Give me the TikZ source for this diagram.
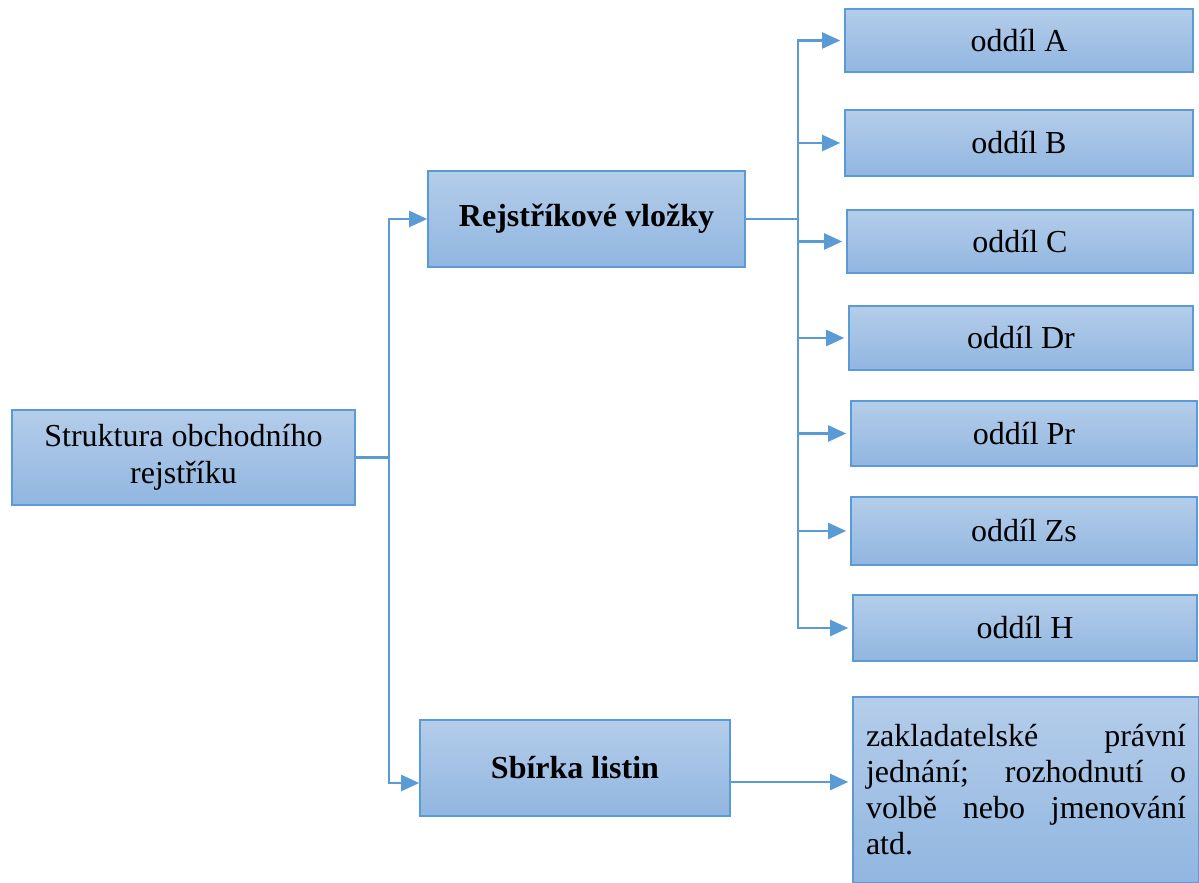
\documentclass[tikz,border=0pt]{standalone}
\usepackage{fontspec}
\setmainfont{Liberation Serif}
\usetikzlibrary{arrows.meta,calc}
\definecolor{bordc}{RGB}{91,155,213}
\definecolor{topc}{RGB}{180,205,234}
\definecolor{botc}{RGB}{145,182,224}
\tikzset{
  bx/.style={draw=bordc, line width=0.8pt, top color=topc, bottom color=botc,
    inner sep=0pt, font=\fontsize{16}{18.5}\selectfont, align=center},
  arr/.style={draw=bordc, line width=1.2pt, -{Triangle[length=9pt,width=8pt]}},
  ln/.style={draw=bordc, line width=1.2pt}
}
\begin{document}
\begin{tikzpicture}[x=0.5pt,y=-0.5pt]
\useasboundingbox (0,0) rectangle (1199,883);
\node[bx, minimum width=171.5pt, minimum height=47.5pt] (struk) at (183.5,457.5) {Struktura obchodního\\rejstříku};
\node[bx, minimum width=158.5pt, minimum height=48pt, font=\fontsize{16}{18.5}\selectfont\bfseries] (rej) at (586.5,219) {Rejstříkové vložky};
\node[bx, minimum width=155pt, minimum height=48pt, font=\fontsize{16}{18.5}\selectfont\bfseries] (sb) at (575,768) {Sbírka listin};
\node[bx, minimum width=174pt, minimum height=31.5pt] (A) at (1019,40.5) {oddíl A};
\node[bx, minimum width=174pt, minimum height=33pt] (B) at (1019,143) {oddíl B};
\node[bx, minimum width=173pt, minimum height=31.5pt] (C) at (1020,241.5) {oddíl C};
\node[bx, minimum width=172pt, minimum height=32pt] (Dr) at (1021,338) {oddíl Dr};
\node[bx, minimum width=173pt, minimum height=32.5pt] (Pr) at (1024,433.5) {oddíl Pr};
\node[bx, minimum width=173pt, minimum height=34pt] (Zs) at (1024,531) {oddíl Zs};
\node[bx, minimum width=172pt, minimum height=33pt] (H) at (1025,628) {oddíl H};
\node[bx, minimum width=173pt, minimum height=93pt, align=left, font=\fontsize{16}{18}\selectfont] (txt) at (1026,790) {%
\makebox[160pt][s]{zakladatelské právní}\\
\makebox[160pt][s]{jednání; rozhodnutí o}\\
\makebox[160pt][s]{volbě nebo jmenování}\\
\makebox[160pt][l]{atd.}};
% trunk 1
\coordinate (j1) at ($(struk.east)+(33,0)$);
\draw[ln] (struk.east) -- (j1);
\draw[arr] (j1) |- (rej.west);
\draw[arr] (j1) |- ([yshift=-7.5pt]sb.west);
% trunk 2
\coordinate (j2) at ($(rej.east)+(52,0)$);
\draw[ln] (rej.east) -- (j2);
\foreach \n in {A,B,C,Dr,Pr,Zs,H}{
  \draw[arr] (j2) |- ([xshift=-2pt]\n.west);
}
% sbirka to text
\draw[arr] ([yshift=-7pt]sb.east) -- ([yshift=-7pt,xshift=-2pt]sb.east -| txt.west);
\end{tikzpicture}
\end{document}
